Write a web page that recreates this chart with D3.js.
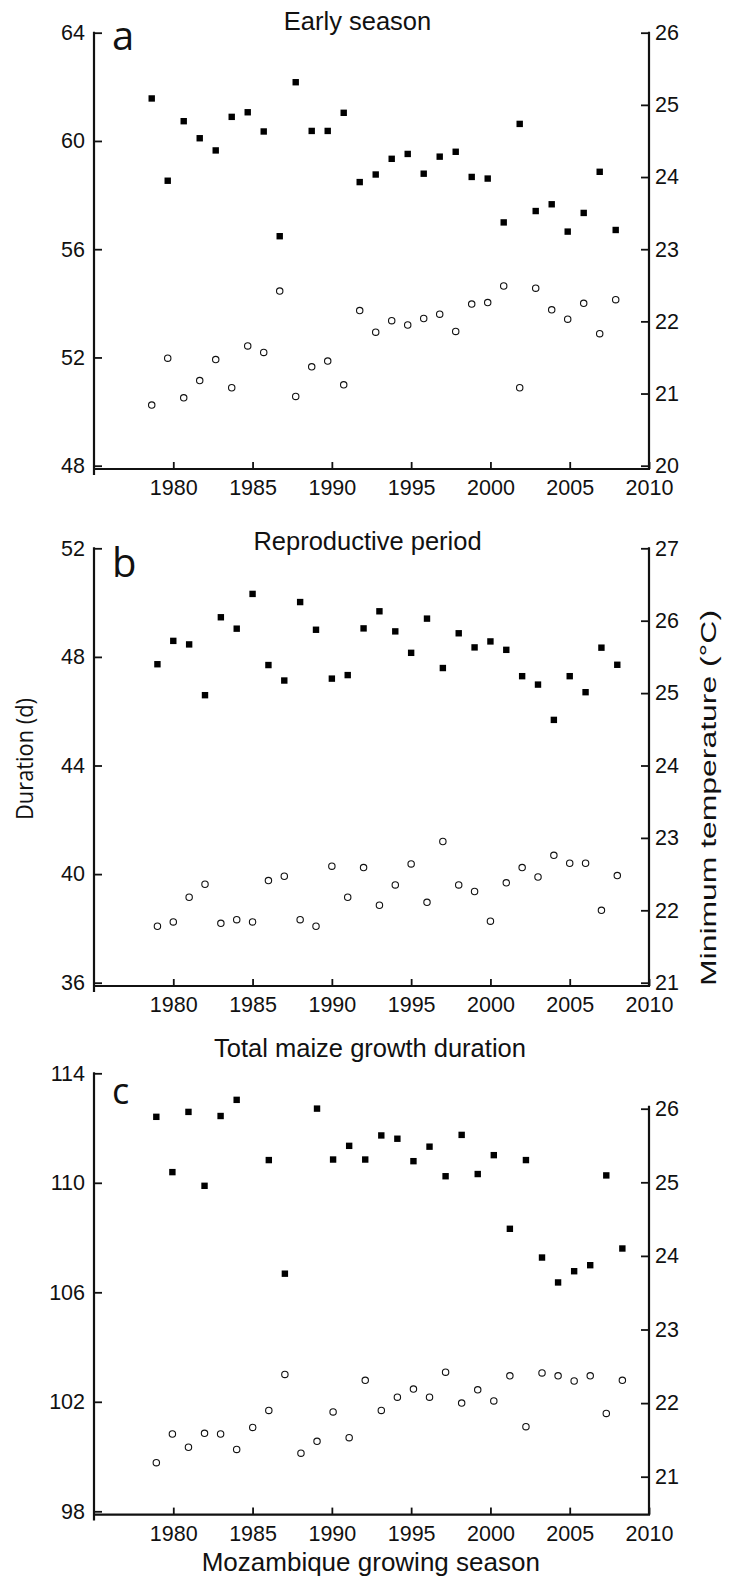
<!DOCTYPE html>
<html><head><meta charset="utf-8">
<script src="https://cdn.jsdelivr.net/npm/d3@7"></script>
<style>
html,body{margin:0;padding:0;background:#fff;}
svg{display:block;}
</style></head><body>
<svg id="chart" width="733" height="1578"></svg>
<script>
// ---------- data ----------
const years = [1979,1980,1981,1982,1983,1984,1985,1986,1987,1988,1989,1990,1991,1992,1993,
               1994,1995,1996,1997,1998,1999,2000,2001,2002,2003,2004,2005,2006,2007,2008];

// (a) Early season
const earlyDuration = [61.57,58.53,60.73,60.10,59.65,60.89,61.06,60.35,56.48,62.17,60.37,60.37,61.04,58.48,58.76,
                       59.34,59.52,58.79,59.42,59.60,58.67,58.61,56.99,60.63,57.41,57.66,56.65,57.34,58.86,56.71];
const earlyTmin     = [20.84,21.49,20.94,21.18,21.47,21.08,21.66,21.57,22.42,20.96,21.37,21.45,21.12,22.15,21.85,
                       22.01,21.95,22.04,22.10,21.86,22.24,22.26,22.49,21.08,22.46,22.16,22.03,22.25,21.83,22.30];
// (b) Reproductive period
const reproDuration = [47.73,48.59,48.46,46.59,49.46,49.04,50.32,47.70,47.13,50.02,49.00,47.20,47.33,49.05,49.68,
                       48.94,48.15,49.41,47.59,48.87,48.35,48.57,48.26,47.29,46.98,45.68,47.29,46.70,48.34,47.71];
const reproTmin     = [21.78,21.84,22.18,22.36,21.82,21.87,21.84,22.41,22.47,21.87,21.78,22.61,22.18,22.59,22.07,
                       22.35,22.64,22.11,22.95,22.35,22.26,21.85,22.38,22.59,22.46,22.76,22.65,22.65,22.00,22.48];
// (c) Total maize growth duration (no duration marker shown for 1985 and 1988)
const totalDuration = [112.41,110.39,112.59,109.89,112.44,113.03,null,110.83,106.68,null,112.71,110.85,111.35,110.85,111.73,
                       111.61,110.79,111.32,110.24,111.75,110.32,111.01,108.32,110.83,107.27,106.36,106.77,106.99,110.27,107.60];
const totalTmin     = [21.19,21.58,21.40,21.59,21.58,21.37,21.67,21.90,22.39,21.32,21.48,21.88,21.53,22.31,21.90,
                       22.08,22.19,22.08,22.42,22.00,22.18,22.03,22.37,21.68,22.41,22.37,22.30,22.37,21.86,22.31];

// tick labels
const yearTicks = [1980,1985,1990,1995,2000,2005,2010];
const durTicksA = [48,52,56,60,64];
const tminTicksA = [20,21,22,23,24,25,26];
const durTicksB = [36,40,44,48,52];
const tminTicksB = [21,22,23,24,25,26,27];
const durTicksC = [98,102,106,110,114];
const tminTicksC = [21,22,23,24,25,26];

const panelTitles = ["Early season","Reproductive period","Total maize growth duration"];
const panelLetters = ["a","b","c"];
// where the first and last season sit along the year axis in each panel (as drawn in the source)
const seasonSpan = [[1978.64,2007.90],[1979,2008],[1978.93,2008.32]];

const xLabel = "Mozambique growing season";
const yLabelLeft = "Duration (d)";
const yLabelRight = "Minimum temperature (°C)";

// ---------- layout ----------
const layout = [
  {yTop:32.7,  yBot:465.7,  rTop:32.7,   rBot:465.7,  titleX:357.5, titleY:29.5,   letterY:50,     letterSize:40},
  {yTop:548.3, yBot:982.7,  rTop:548.3,  rBot:982.7,  titleX:367.5, titleY:549.5,  letterY:576.7,  letterSize:40},
  {yTop:1073.3,yBot:1511.3, rTop:1108.7, rBot:1476.7, titleX:370,   titleY:1057,   letterY:1103.6, letterSize:36}
];
const panels = [
  {dur:earlyDuration, tmin:earlyTmin, durTicks:durTicksA, tminTicks:tminTicksA},
  {dur:reproDuration, tmin:reproTmin, durTicks:durTicksB, tminTicks:tminTicksB},
  {dur:totalDuration, tmin:totalTmin, durTicks:durTicksC, tminTicks:tminTicksC}
];

const xLeft = 94, xRight = 649;
const svg = d3.select("#chart");
const x = d3.scaleLinear().domain([1975, 2010]).range([xLeft, xRight]);
const tickFont = "'Liberation Sans', Arial, Helvetica, sans-serif";

panels.forEach((p, i) => {
  const L = layout[i];
  const g = svg.append("g");
  const yL = d3.scaleLinear().domain(d3.extent(p.durTicks)).range([L.yBot, L.yTop]);
  const yR = d3.scaleLinear().domain(d3.extent(p.tminTicks)).range([L.rBot, L.rTop]);
  const axisY = L.yBot + 3.3;
  const xp = d3.scaleLinear().domain([years[0], years[years.length-1]])
               .range([x(seasonSpan[i][0]), x(seasonSpan[i][1])]);

  // axes
  const la = g.append("g").attr("transform", `translate(${xLeft},0)`)
    .call(d3.axisLeft(yL).tickValues(p.durTicks).tickSizeInner(-8).tickSizeOuter(0).tickPadding(9).tickFormat(d3.format("d")));
  const ra = g.append("g").attr("transform", `translate(${xRight},0)`)
    .call(d3.axisRight(yR).tickValues(p.tminTicks).tickSizeInner(-8).tickSizeOuter(0).tickPadding(6).tickFormat(d3.format("d")));
  const ba = g.append("g").attr("transform", `translate(0,${axisY})`)
    .call(d3.axisBottom(x).tickValues(yearTicks).tickSizeInner(-7).tickSizeOuter(0).tickPadding(11).tickFormat(d3.format("d")));
  [la, ra, ba].forEach(a => {
    a.select(".domain").remove();
    a.selectAll(".tick line").attr("stroke", "#111").attr("stroke-width", 1.8);
    a.selectAll(".tick text").attr("fill", "#111").style("font-family", tickFont).style("font-size", "21.5px");
  });
  // axis lines
  g.append("line").attr("x1", xLeft).attr("x2", xLeft).attr("y1", L.yTop - 1).attr("y2", axisY + 6)
    .attr("stroke", "#111").attr("stroke-width", 2.2);
  g.append("line").attr("x1", xRight).attr("x2", xRight).attr("y1", L.rTop - (i === 2 ? 3 : 1)).attr("y2", axisY)
    .attr("stroke", "#111").attr("stroke-width", 2.2);
  g.append("line").attr("x1", xLeft - 1).attr("x2", xRight + 1).attr("y1", axisY).attr("y2", axisY)
    .attr("stroke", "#111").attr("stroke-width", 2.2);

  // title and letter
  g.append("text").attr("x", L.titleX).attr("y", L.titleY).attr("text-anchor", "middle")
    .style("font-family", tickFont).style("font-size", "25.5px").attr("fill", "#111").text(panelTitles[i]);
  g.append("text").attr("x", 112).attr("y", L.letterY)
    .style("font-family", "'Open Sans', sans-serif").style("font-weight", 500)
    .style("font-size", L.letterSize + "px").attr("fill", "#111")
    .text(panelLetters[i]);

  // temperature (open circles)
  g.append("g").selectAll("circle").data(years.map((yr, k) => ({yr, v: p.tmin[k]})).filter(d => d.v != null))
    .join("circle").attr("cx", d => xp(d.yr)).attr("cy", d => yR(d.v)).attr("r", 3.2)
    .attr("fill", "#fff").attr("stroke", "#111").attr("stroke-width", 1.1);
  // duration (filled squares)
  const s = 6.4;
  g.append("g").selectAll("rect").data(years.map((yr, k) => ({yr, v: p.dur[k]})).filter(d => d.v != null))
    .join("rect").attr("x", d => xp(d.yr) - s/2).attr("y", d => yL(d.v) - s/2)
    .attr("width", s).attr("height", s).attr("fill", "#000");
});

// shared axis labels
svg.append("text").attr("x", 370.8).attr("y", 1570.7).attr("text-anchor", "middle")
  .style("font-family", tickFont).style("font-size", "26px").attr("fill", "#111").text(xLabel);
svg.append("text").attr("transform", "translate(33,759) rotate(-90)").attr("text-anchor", "middle")
  .attr("textLength", 122).attr("lengthAdjust", "spacingAndGlyphs")
  .style("font-family", "'Open Sans', sans-serif").style("font-size", "23px").attr("fill", "#111").text(yLabelLeft);
svg.append("text").attr("transform", "translate(716,798) rotate(-90)").attr("text-anchor", "middle")
  .attr("textLength", 376).attr("lengthAdjust", "spacingAndGlyphs")
  .style("font-family", tickFont).style("font-size", "22px").attr("fill", "#111").text(yLabelRight);
</script>
</body></html>
